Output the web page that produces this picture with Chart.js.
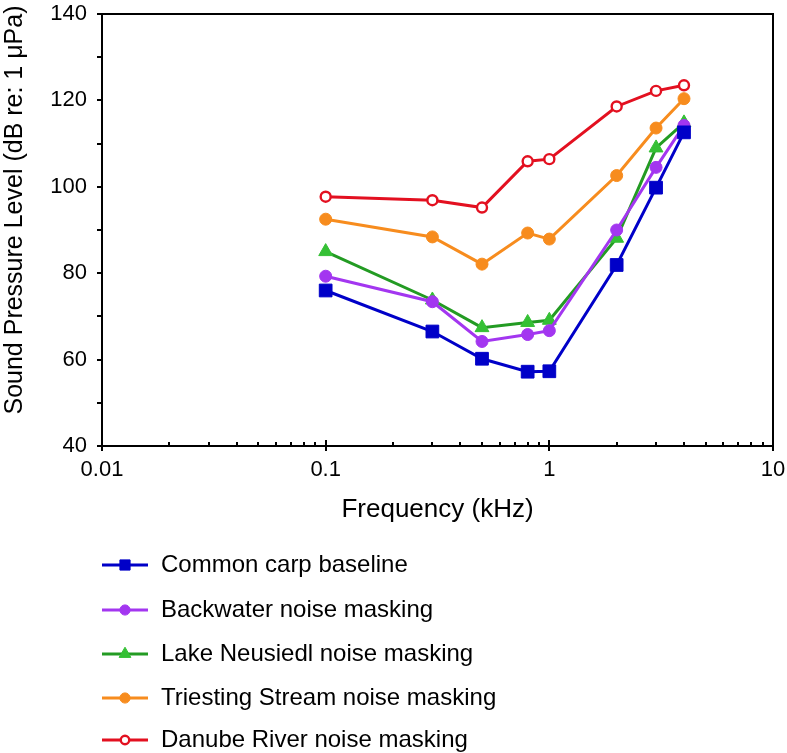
<!DOCTYPE html>
<html>
<head>
<meta charset="utf-8">
<script src="https://cdn.jsdelivr.net/npm/chart.js@4/dist/chart.umd.min.js"></script>
<style>
  html, body { margin: 0; padding: 0; background: #ffffff; }
  #c { display: block; }
</style>
</head>
<body>
<canvas id="c" width="787" height="753"></canvas>
<script>
// ---- data ----
const frequencies = [0.1, 0.3, 0.5, 0.8, 1, 2, 3, 4];
const commonCarp  = [76.0, 66.5, 60.2, 57.2, 57.3, 81.9, 99.8, 112.6];
const backwater   = [79.3, 73.4, 64.2, 65.8, 66.7, 90.0, 104.5, 114.2];
const lakeNeusiedl= [85.0, 73.8, 67.4, 68.6, 69.1, 88.1, 109.0, 114.8];
const triesting   = [92.5, 88.4, 82.1, 89.3, 87.9, 102.6, 113.6, 120.4];
const danube      = [97.7, 96.9, 95.2, 105.9, 106.4, 118.6, 122.2, 123.5];
const seriesNames = ['Common carp baseline', 'Backwater noise masking', 'Lake Neusiedl noise masking', 'Triesting Stream noise masking', 'Danube River noise masking'];
const xTickValues = [0.01, 0.1, 1, 10];
const xTickLabels = ['0.01', '0.1', '1', '10'];
const xMinorValues = [0.02,0.03,0.04,0.05,0.06,0.07,0.08,0.09,0.2,0.3,0.4,0.5,0.6,0.7,0.8,0.9,2,3,4,5,6,7,8,9];

const FONT = 'Liberation Sans, Arial, Helvetica, sans-serif';

function pts(vals) { return frequencies.map((f, i) => ({ x: f, y: vals[i] })); }

const styles = [
  { data: commonCarp,   line: '#0000c8', fill: '#0000c8', stroke: '#0000c8', style: 'rect',     radius: 9,   bw: 1 },
  { data: backwater,    line: '#a336f0', fill: '#a336f0', stroke: '#a336f0', style: 'circle',   radius: 6,   bw: 1 },
  { data: lakeNeusiedl, line: '#239b23', fill: '#35c035', stroke: '#35c035', style: 'triangle', radius: 8,   bw: 1 },
  { data: triesting,    line: '#f78c1e', fill: '#f78c1e', stroke: '#f78c1e', style: 'circle',   radius: 6,   bw: 1 },
  { data: danube,       line: '#e31020', fill: '#ffffff', stroke: '#e31020', style: 'circle',   radius: 5,   bw: 2.4 }
];

const datasets = styles.map((s, i) => ({
  label: seriesNames[i],
  data: pts(s.data),
  borderColor: s.line,
  borderWidth: 3,
  backgroundColor: s.fill,
  pointStyle: s.style,
  pointRadius: s.radius,
  pointBackgroundColor: s.fill,
  pointBorderColor: s.stroke,
  pointBorderWidth: s.bw,
  tension: 0,
  fill: false
}));

const framePlugin = {
  id: 'framePlugin',
  afterDraw(chart) {
    const ctx = chart.ctx;
    const a = chart.chartArea;
    const xs = chart.scales.x;
    ctx.save();
    ctx.strokeStyle = '#000';
    ctx.lineWidth = 2;
    // top and right frame
    ctx.beginPath();
    ctx.moveTo(a.left, a.top);
    ctx.lineTo(a.right, a.top);
    ctx.lineTo(a.right, a.bottom);
    ctx.stroke();
    // inner ticks on x axis
    xTickValues.forEach(v => {
      const px = Math.round(xs.getPixelForValue(v));
      ctx.beginPath();
      ctx.moveTo(px, a.bottom);
      ctx.lineTo(px, a.bottom - 6);
      ctx.stroke();
    });
    xMinorValues.forEach(v => {
      const px = Math.round(xs.getPixelForValue(v));
      ctx.beginPath();
      ctx.moveTo(px, a.bottom);
      ctx.lineTo(px, a.bottom - 4);
      ctx.stroke();
    });
    // y axis title
    ctx.fillStyle = '#000';
    ctx.font = '25px ' + FONT;
    ctx.textAlign = 'center';
    ctx.textBaseline = 'middle';
    ctx.translate(15, 210);
    ctx.rotate(-Math.PI / 2);
    ctx.fillText('Sound Pressure Level (dB re: 1 \u03bcPa)', 0, 0);
    ctx.restore();

    // legend
    ctx.save();
    const rowY = [565, 610, 654, 698, 740];
    chart.data.datasets.forEach((ds, i) => {
      const y = rowY[i];
      ctx.strokeStyle = ds.borderColor;
      ctx.lineWidth = 3;
      ctx.beginPath();
      ctx.moveTo(102, y);
      ctx.lineTo(148, y);
      ctx.stroke();
      ctx.fillStyle = ds.pointBackgroundColor;
      ctx.strokeStyle = ds.pointBorderColor;
      ctx.lineWidth = ds.pointBorderWidth;
      const r = ds.pointStyle === 'rect' ? ds.pointRadius * 0.8 : ds.pointRadius * 0.85;
      Chart.helpers.drawPoint(ctx, { pointStyle: ds.pointStyle, radius: r, rotation: 0, borderWidth: ds.pointBorderWidth }, 125, y);
      ctx.fillStyle = '#000';
      ctx.font = '24px ' + FONT;
      ctx.textAlign = 'left';
      ctx.textBaseline = 'middle';
      ctx.fillText(ds.label, 161, y);
    });
    ctx.restore();
  }
};

new Chart(document.getElementById('c'), {
  type: 'line',
  data: { datasets },
  options: {
    responsive: false,
    animation: false,
    devicePixelRatio: 1,
    layout: { padding: { left: 0, right: 14, top: 14, bottom: 230 } },
    plugins: { legend: { display: false }, tooltip: { enabled: false } },
    scales: {
      x: {
        type: 'logarithmic',
        min: 0.01,
        max: 10,
        afterBuildTicks(scale) { scale.ticks = xTickValues.map(v => ({ value: v })); },
        afterFit(scale) { scale.height = 77; scale.paddingLeft = 0; scale.paddingRight = 0; },
        ticks: {
          autoSkip: false,
          maxRotation: 0,
          color: '#000',
          padding: 6,
          font: { family: FONT, size: 22 },
          callback: (v, i) => xTickLabels[i]
        },
        grid: { drawOnChartArea: false, drawTicks: true, tickLength: 5, color: '#000', lineWidth: 2 },
        border: { display: true, color: '#000', width: 2 },
        title: {
          display: true,
          text: 'Frequency (kHz)',
          color: '#000',
          font: { family: FONT, size: 26, lineHeight: 1 },
          padding: { top: 0, bottom: 0 }
        }
      },
      y: {
        type: 'linear',
        min: 40,
        max: 140,
        afterFit(scale) { scale.width = 102; scale.paddingTop = 0; scale.paddingBottom = 0; },
        ticks: {
          stepSize: 10,
          color: '#000',
          padding: 10,
          font: { family: FONT, size: 22 },
          callback: v => (v % 20 === 0 ? String(v) : '')
        },
        grid: { drawOnChartArea: false, drawTicks: true, tickLength: 5, color: '#000', lineWidth: 2 },
        border: { display: true, color: '#000', width: 2 }
      }
    }
  },
  plugins: [framePlugin]
});
</script>
</body>
</html>
